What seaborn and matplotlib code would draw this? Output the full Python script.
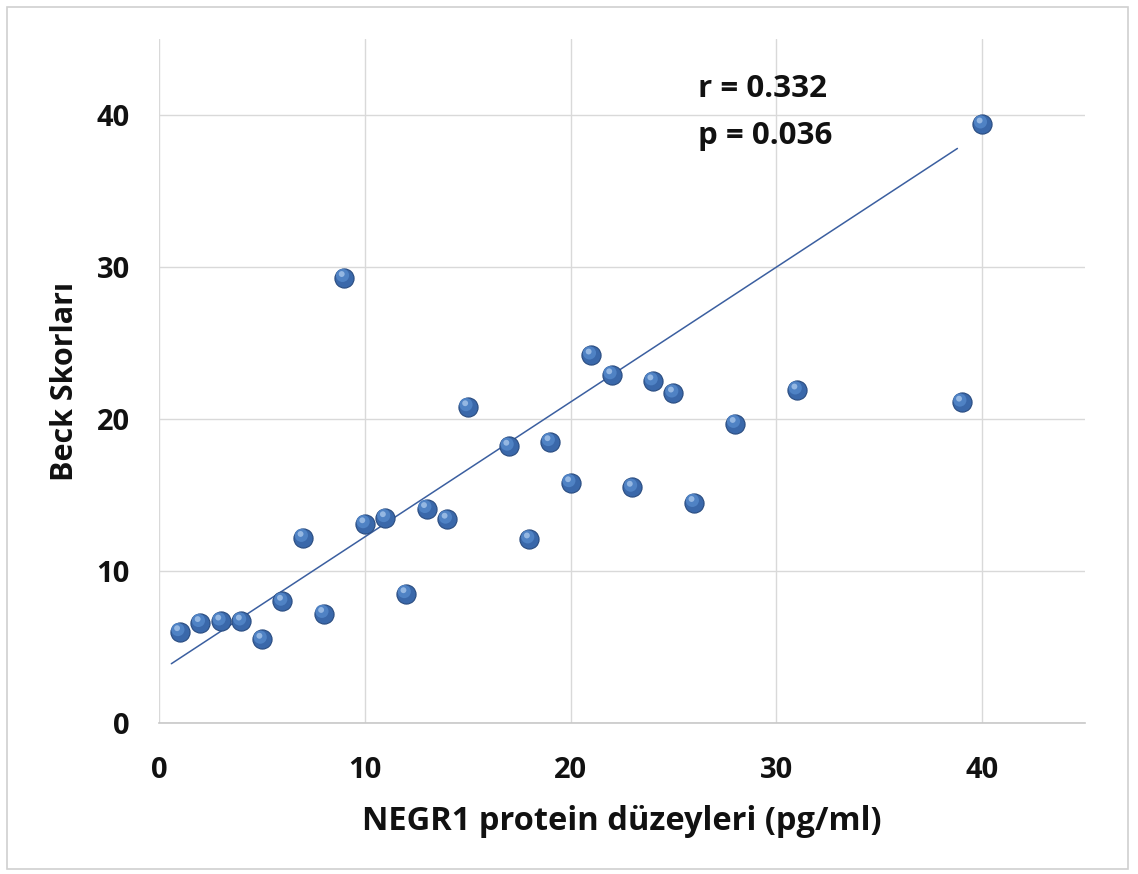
import matplotlib
matplotlib.use("Agg")
import matplotlib.pyplot as plt
import matplotlib.transforms as mtransforms
from matplotlib.patches import Rectangle
import seaborn as sns
import pandas as pd

# Data
negr1 = [1, 2, 3, 4, 5, 6, 7, 8, 9, 10, 11, 12, 13, 14, 15, 17, 18, 19, 20,
         21, 22, 23, 24, 25, 26, 28, 31, 39, 40]
beck = [6.0, 6.6, 6.7, 6.7, 5.5, 8.0, 12.2, 7.2, 29.3, 13.1, 13.5, 8.5, 14.1, 13.4,
        20.8, 18.2, 12.1, 18.5, 15.8, 24.2, 22.9, 15.5, 22.5, 21.7, 14.5, 19.7,
        21.9, 21.1, 39.4]
trend_x = [0.6, 38.8]
trend_y = [3.9, 37.8]
x_ticks = [0, 10, 20, 30, 40]
y_ticks = [0, 10, 20, 30, 40]
stats_text = ["r = 0.332", "p = 0.036"]
xlabel = "NEGR1 protein düzeyleri (pg/ml)"
ylabel = "Beck Skorları"

df = pd.DataFrame({"x": negr1, "y": beck})

sns.set_theme(style="white")
plt.rcParams['font.family'] = ['Open Sans', 'DejaVu Sans']

fig = plt.figure(figsize=(11.38, 8.74), dpi=100)
ax = fig.add_axes([159/1138, 1 - 723/874, (1085-159)/1138, (723-39)/874])

# outer chart border
fig.patches.append(Rectangle((7/1138, 1 - 869/874), 1121/1138, 862/874,
                             transform=fig.transFigure, fill=False,
                             edgecolor='#d0d0d0', linewidth=1.2))

ax.set_xlim(0, 45)
ax.set_ylim(0, 45)
ax.set_xticks(x_ticks)
ax.set_yticks(y_ticks)
ax.grid(True, color='#d9d9d9', linewidth=1.0)
ax.set_axisbelow(True)
for s in ['top', 'right', 'left']:
    ax.spines[s].set_visible(False)
ax.spines['bottom'].set_color('#c8c8c8')
ax.spines['bottom'].set_linewidth(1.2)

# trend line
ax.plot(trend_x, trend_y, color='#3b5fa0', linewidth=1.1, zorder=2)

# spheres: base + highlight layers
sns.scatterplot(data=df, x="x", y="y", ax=ax, s=190, color='#3a68aa',
                edgecolor='#2a4c80', linewidth=0.8, zorder=3, legend=False)
off = mtransforms.offset_copy(ax.transData, fig=fig, x=-1.2, y=1.6, units='points')
ax.scatter(df["x"], df["y"], s=90, color='#4f82c4', edgecolor='none',
           transform=off, zorder=4)
off2 = mtransforms.offset_copy(ax.transData, fig=fig, x=-1.8, y=2.6, units='points')
ax.scatter(df["x"], df["y"], s=18, color='#9cbde6', edgecolor='none',
           transform=off2, zorder=5, alpha=0.9)

ax.set_xlabel(xlabel, fontsize=23.5, fontweight='bold', color='#111111', labelpad=14)
ax.set_ylabel(ylabel, fontsize=22, fontweight='bold', color='#111111', labelpad=12)
ax.tick_params(axis='x', labelsize=21, pad=24, length=0)
ax.tick_params(axis='y', labelsize=21, pad=21, length=0)
for lab in ax.get_xticklabels() + ax.get_yticklabels():
    lab.set_fontweight('bold')
    lab.set_color('#111111')

ax.text(26.2, 41.7, stats_text[0], fontsize=22.5, fontweight='bold', color='#111111',
        va='center', ha='left')
ax.text(26.2, 38.6, stats_text[1], fontsize=22.5, fontweight='bold', color='#111111',
        va='center', ha='left')

fig.savefig("out.png", dpi=100, facecolor='white')
